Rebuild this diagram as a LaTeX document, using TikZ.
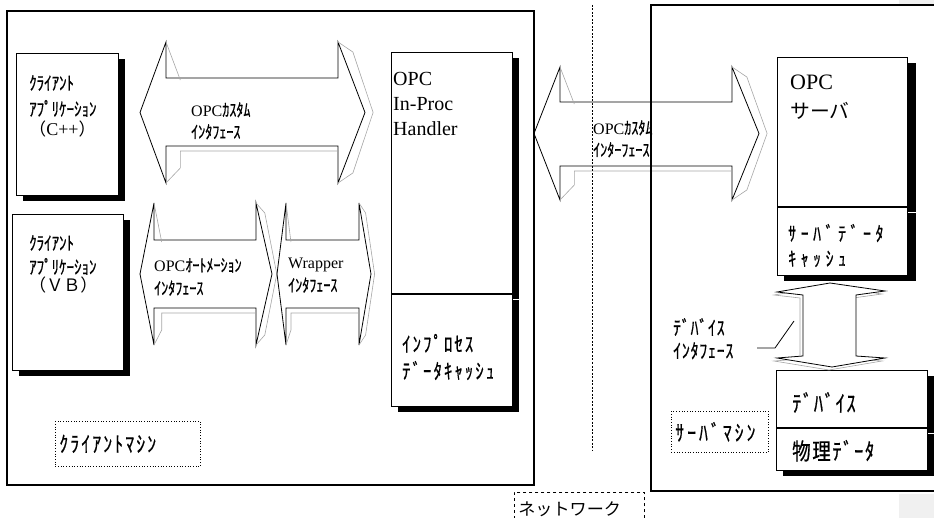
\documentclass[tikz,border=0pt]{standalone}
\usepackage{fontspec}
\setmainfont{Liberation Serif}
\newfontfamily\jp{Noto Sans CJK JP}[Scale=0.9]
\newfontfamily\hk{Noto Sans CJK JP}[Scale=1.1, FakeStretch=0.8, FakeBold=0.6]
\usetikzlibrary{positioning, shadows}

% left tip x, left back x, right back x, right tip x, head top y, shaft top y, shaft bottom y, head bottom y
\newcommand{\blockarrow}[8]{%
  \draw[blockline] (#1,{(#5+#8)/2}) -- (#2,#5) -- (#2,#6) -- (#3,#6) -- (#3,#5)
    -- (#4,{(#5+#8)/2}) -- (#3,#8) -- (#3,#7) -- (#2,#7) -- (#2,#8) -- cycle;
  \draw[bevel] (#2,#5) -- ({#2+0.55*(#2-#1)},{#6+2});
  \draw[bevel] (#3,{#7+5}) -- ({#2+0.55*(#2-#1)},{#7+5}) -- ({#2+0.55*(#2-#1)},{#8-15}) -- (#2,#8);
  \draw[bevel] (#3,#5) -- ({#3+0.55*(#4-#3)},{#5+10}) -- ({#4+0.3*(#4-#3)},{(#5+#8)/2})
    -- ({#3+0.55*(#4-#3)},{#8-10}) -- (#3,#8);
}

\begin{document}
\begin{tikzpicture}[x=1pt, y=-1pt,
    appbox/.style={draw, fill=white, line width=0.8pt, inner sep=0pt, anchor=north west,
        drop shadow={shadow xshift=7pt, shadow yshift=-6pt, fill=black, opacity=1}},
    boxtext/.style={align=left, inner sep=0pt, anchor=north west, font=\fontsize{17}{26}\selectfont\hk},
    arrowtext/.style={align=left, inner sep=0pt, anchor=north west, font=\fontsize{16}{22}\selectfont},
    blockline/.style={draw, fill=white, line width=0.8pt},
    bevel/.style={draw=gray!70, line width=0.6pt},
    frame/.style={line width=1.2pt},
    machinebox/.style={draw, dotted, line width=0.7pt, inner sep=4pt, anchor=north west},
    netline/.style={dashed, line width=0.7pt, dash pattern=on 2pt off 1.5pt}]

    \useasboundingbox (0,0) rectangle (934,518);
    \fill[gray!12] (899,0) rectangle (934,4);
    \fill[gray!12] (899,494) rectangle (934,518);

    % interface arrows
    \blockarrow{140}{166}{338}{365}{42}{78}{146}{183}
    \blockarrow{140}{154}{256}{272}{203}{240}{308}{345}
    \blockarrow{277}{286}{359}{371}{203}{240}{308}{345}
    \blockarrow{534}{560}{732}{759}{67}{102}{166}{200}

    \node[arrowtext] (customlabel) at (191,102) {OPC{\hk ｶｽﾀﾑ}\\{\hk ｲﾝﾀﾌｪｰｽ}};
    \node[arrowtext, font=\fontsize{16}{23}\selectfont] (autolabel) at (154,258) {OPC{\hk ｵｰﾄﾒｰｼｮﾝ}\\{\hk ｲﾝﾀﾌｪｰｽ}};
    \node[arrowtext, font=\fontsize{16}{23}\selectfont] (wraplabel) at (288,258) {Wrapper\\{\hk ｲﾝﾀﾌｪｰｽ}};
    \node[arrowtext] (netcustomlabel) at (593,120) {OPC{\hk ｶｽﾀﾑ}\\{\hk ｲﾝﾀｰﾌｪｰｽ}};

    % client side
    \node[appbox, minimum width=102pt, minimum height=142pt] (cpp) at (16,53) {};
    \node[boxtext, below right=22pt and 13pt of cpp.north west] (cpplabel)
        {ｸﾗｲｱﾝﾄ\\ｱﾌﾟﾘｹｰｼｮﾝ\\[-6pt]{\fontsize{19}{24}\selectfont\jp （}{\fontsize{18}{24}\selectfont\rmfamily C++}{\fontsize{19}{24}\selectfont\jp ）}};

    \node[appbox, minimum width=111pt, minimum height=156pt] (vb) at (12,214) {};
    \node[boxtext, font=\fontsize{17}{24}\selectfont\hk, below right=21pt and 17pt of vb.north west] (vblabel)
        {ｸﾗｲｱﾝﾄ\\ｱﾌﾟﾘｹｰｼｮﾝ\\[-6pt]{\fontsize{19}{24}\selectfont\jp （ＶＢ）}};

    \node[appbox, minimum width=121pt, minimum height=241pt] (handler) at (391,52) {};
    \node[appbox, minimum width=121pt, minimum height=112pt] (handlercache) at (handler.south west) {};
    \node[boxtext, font=\fontsize{20}{25}\selectfont, below right=20pt and 2pt of handler.north west] (handlerlabel)
        {OPC\\In-Proc\\Handler};
    \node[boxtext, font=\fontsize{19}{27}\selectfont\hk\addfontfeature{LetterSpace=10},
        below right=40pt and 11pt of handlercache.north west] (handlercachelabel)
        {ｲﾝﾌﾟﾛｾｽ\\ﾃﾞｰﾀｷｬｯｼｭ};

    \node[machinebox, text width=137pt, minimum height=45pt,
        font=\fontsize{20}{24}\selectfont\hk\addfontfeature{LetterSpace=10}] (clientmachine) at (55,421) {ｸﾗｲｱﾝﾄﾏｼﾝ};

    % server side
    \node[appbox, minimum width=130pt, minimum height=149pt,
        drop shadow={shadow xshift=9pt, shadow yshift=-6pt, fill=black, opacity=1}] (server) at (777,57) {};
    \node[appbox, minimum width=130pt, minimum height=68pt,
        drop shadow={shadow xshift=9pt, shadow yshift=-6pt, fill=black, opacity=1}] (servercache) at (server.south west) {};
    \node[boxtext, font=\fontsize{22}{29}\selectfont, below right=18pt and 13pt of server.north west] (serverlabel)
        {OPC\\{\jp サーバ}};
    \node[boxtext, font=\fontsize{18}{25}\selectfont\hk\addfontfeature{LetterSpace=23},
        below right=17pt and 11pt of servercache.north west] (servercachelabel)
        {ｻｰﾊﾞﾃﾞｰﾀ\\ｷｬｯｼｭ};

    \node[appbox, minimum width=151pt, minimum height=57pt] (device) at (776,370) {};
    \node[appbox, minimum width=151pt, minimum height=42pt] (physdata) at (device.south west) {};
    \node[boxtext, font=\fontsize{21}{25}\selectfont\hk\addfontfeature{LetterSpace=7},
        below right=22pt and 16pt of device.north west] (devicelabel) {ﾃﾞﾊﾞｲｽ};
    \node[boxtext, font=\fontsize{21}{25}\selectfont\hk\addfontfeature{LetterSpace=7},
        below right=12pt and 16pt of physdata.north west] (physdatalabel) {物理ﾃﾞｰﾀ};

    % device interface
    \draw[bevel, fill=white, shift={(-3,3)}] (830,283) -- (885,291) -- (856,295) -- (856,356) -- (885,358)
        -- (832,367) -- (777,358) -- (803,356) -- (803,295) -- (777,292) -- cycle;
    \draw[blockline] (830,283) -- (885,291) -- (856,295) -- (856,356) -- (885,358)
        -- (832,367) -- (777,358) -- (803,356) -- (803,295) -- (777,292) -- cycle;
    \node[arrowtext, font=\fontsize{18}{23}\selectfont\hk\addfontfeature{LetterSpace=4}] (devifacelabel) at (673,318)
        {ﾃﾞﾊﾞｲｽ\\ｲﾝﾀﾌｪｰｽ};
    \coordinate (leadA) at (757,348);
    \coordinate (leadB) at (775,348);
    \coordinate (leadC) at (794,321);
    \draw[line width=0.8pt] (leadA) -- (leadB) -- (leadC);

    \node[machinebox, text width=89pt, minimum height=41pt,
        font=\fontsize{20}{24}\selectfont\hk\addfontfeature{LetterSpace=14}] (servermachine) at (671,411) {ｻｰﾊﾞﾏｼﾝ};

    % machines and network
    \draw[frame] (7,11) rectangle (534,485);
    \draw[frame] (945,5) -- (651,5) -- (651,491) -- (945,491);
    \coordinate (nettop) at (592,5);
    \coordinate (netbottom) at (592,451);
    \draw[netline] (nettop) -- (netbottom);
    \node[machinebox, dashed, text width=122pt, minimum height=34pt,
        font=\fontsize{19}{23}\selectfont\jp] (network) at (514,492) {ネットワーク};

\end{tikzpicture}
\end{document}
